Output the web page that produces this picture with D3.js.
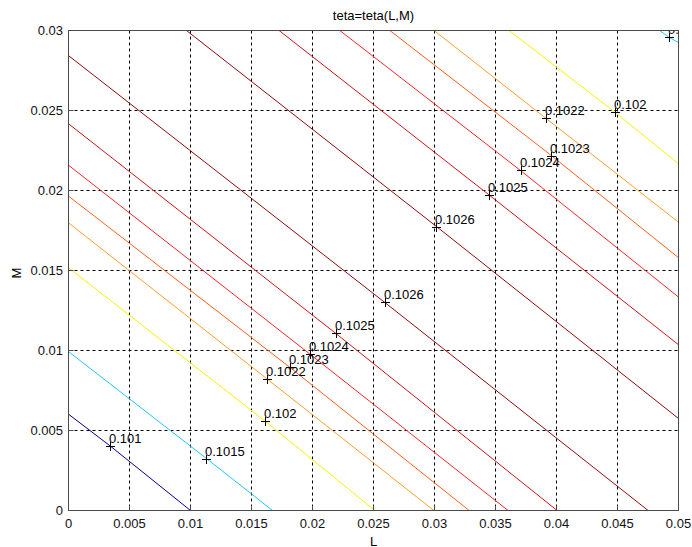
<!DOCTYPE html>
<html>
<head>
<meta charset="utf-8">
<script src="https://cdn.jsdelivr.net/npm/d3@7"></script>
<style>
  body { margin: 0; background: #fff; }
  svg text { font-family: Arial, "Liberation Sans", Helvetica, sans-serif; }
</style>
</head>
<body>
<div class="chart"></div>
<script>
// contour levels, one per drawn line (ridge between the two 0.1026 lines)
const contourLevels = [0.101, 0.1015, 0.102, 0.1022, 0.1023, 0.1024, 0.1025, 0.1026,
                       0.1026, 0.1025, 0.1024, 0.1023, 0.1022, 0.102, 0.1015];
const contourText = ["0.101", "0.1015", "0.102", "0.1022", "0.1023", "0.1024", "0.1025", "0.1026",
                     "0.1026", "0.1025", "0.1024", "0.1023", "0.1022", "0.102", "0.1015"];

// [L, M] points: edge, labelled point, edge
const contourLines = [
  [[0, 0.00602], [0.00344, 0.00402], [0.01000, 0]],
  [[0, 0.00993], [0.01131, 0.00325], [0.01672, 0]],
  [[0, 0.01517], [0.01609, 0.00560], [0.02511, 0]],
  [[0, 0.01798], [0.01623, 0.00825], [0.02995, 0]],
  [[0, 0.01965], [0.01814, 0.00895], [0.03284, 0]],
  [[0, 0.02158], [0.01978, 0.00978], [0.03603, 0]],
  [[0, 0.02417], [0.02189, 0.01108], [0.04005, 0]],
  [[0, 0.02843], [0.02593, 0.01300], [0.04751, 0]],
  [[0.00967, 0.03], [0.03016, 0.01775], [0.05, 0.00575]],
  [[0.01726, 0.03], [0.03448, 0.01972], [0.05, 0.01036]],
  [[0.02224, 0.03], [0.03705, 0.02125], [0.05, 0.01334]],
  [[0.02634, 0.03], [0.03959, 0.02218], [0.05, 0.01580]],
  [[0.02997, 0.03], [0.03910, 0.02453], [0.05, 0.01802]],
  [[0.03611, 0.03], [0.04478, 0.02490], [0.05, 0.02167]],
  [[0.04847, 0.03], [0.04921, 0.02958], [0.05, 0.02925]]
];

const xTicks = [0, 0.005, 0.01, 0.015, 0.02, 0.025, 0.03, 0.035, 0.04, 0.045, 0.05];
const xTickText = ["0", "0.005", "0.01", "0.015", "0.02", "0.025", "0.03", "0.035", "0.04", "0.045", "0.05"];
const yTicks = [0, 0.005, 0.01, 0.015, 0.02, 0.025, 0.03];
const yTickText = ["0", "0.005", "0.01", "0.015", "0.02", "0.025", "0.03"];

const levelColors = d3.scaleOrdinal()
  .domain([0.101, 0.1015, 0.102, 0.1022, 0.1023, 0.1024, 0.1025, 0.1026])
  .range(["#00008c", "#22c4f6", "#f8f800", "#ff9c2c", "#ff5e18", "#ff2424", "#d01414", "#8e0a0a"]);

const width = 692, height = 547;
const plotLeft = 68.5, plotRight = 678.5, plotTop = 30.5, plotBottom = 510.5;

const x = d3.scaleLinear().domain([0, 0.05]).range([plotLeft, plotRight]);
const y = d3.scaleLinear().domain([0, 0.03]).range([plotBottom, plotTop]);

const svg = d3.select(".chart").append("svg")
  .attr("width", width)
  .attr("height", height);

svg.append("defs").append("clipPath").attr("id", "plot")
  .append("rect")
  .attr("x", plotLeft).attr("y", plotTop)
  .attr("width", plotRight - plotLeft).attr("height", plotBottom - plotTop);

// grid
svg.append("g").selectAll("line")
  .data(xTicks.slice(1, -1))
  .join("line")
  .attr("x1", d => x(d)).attr("x2", d => x(d))
  .attr("y1", plotTop).attr("y2", plotBottom)
  .attr("stroke", "#000").attr("stroke-dasharray", "3,3");
svg.append("g").selectAll("line")
  .data(yTicks.slice(1, -1))
  .join("line")
  .attr("y1", d => y(d)).attr("y2", d => y(d))
  .attr("x1", plotLeft).attr("x2", plotRight)
  .attr("stroke", "#000").attr("stroke-dasharray", "3,3");

const line = d3.line().x(d => x(d[0])).y(d => y(d[1]));
const plot = svg.append("g").attr("clip-path", "url(#plot)");

plot.selectAll("path")
  .data(contourLines)
  .join("path")
  .attr("d", line)
  .attr("fill", "none")
  .attr("stroke", (d, i) => levelColors(contourLevels[i]))
  .attr("stroke-width", 1);

// clabel markers and text
const labels = plot.append("g").selectAll("g")
  .data(contourLines)
  .join("g")
  .attr("transform", d => "translate(" + Math.round(x(d[1][0])) + "," + Math.round(y(d[1][1])) + ")");
labels.append("path")
  .attr("d", "M-4,0.5H5M0.5,-4V5")
  .attr("stroke", "#000").attr("stroke-width", 1);
labels.append("text")
  .attr("x", -1).attr("y", -3)
  .attr("font-size", 13)
  .attr("fill", "#000")
  .text((d, i) => contourText[i]);

// ticks pointing in
svg.append("g").selectAll("line")
  .data(xTicks)
  .join("line")
  .attr("x1", d => x(d)).attr("x2", d => x(d))
  .attr("y1", plotBottom).attr("y2", plotBottom - 5)
  .attr("stroke", "#4a4a4a");
svg.append("g").selectAll("line")
  .data(yTicks)
  .join("line")
  .attr("y1", d => y(d)).attr("y2", d => y(d))
  .attr("x1", plotLeft).attr("x2", plotLeft + 5)
  .attr("stroke", "#4a4a4a");

svg.append("rect")
  .attr("x", plotLeft).attr("y", plotTop)
  .attr("width", plotRight - plotLeft).attr("height", plotBottom - plotTop)
  .attr("fill", "none").attr("stroke", "#4a4a4a");

svg.append("g").selectAll("text")
  .data(xTicks)
  .join("text")
  .attr("x", d => x(d)).attr("y", 528)
  .attr("text-anchor", "middle")
  .attr("font-size", 13).attr("fill", "#111")
  .text((d, i) => xTickText[i]);
svg.append("g").selectAll("text")
  .data(yTicks)
  .join("text")
  .attr("x", 63).attr("y", d => y(d) + 4.5)
  .attr("text-anchor", "end")
  .attr("font-size", 13).attr("fill", "#111")
  .text((d, i) => yTickText[i]);

svg.append("text")
  .attr("x", (plotLeft + plotRight) / 2).attr("y", 20)
  .attr("text-anchor", "middle").attr("font-size", 13)
  .text("teta=teta(L,M)");
svg.append("text")
  .attr("x", (plotLeft + plotRight) / 2).attr("y", 545.5)
  .attr("text-anchor", "middle").attr("font-size", 13)
  .text("L");
svg.append("text")
  .attr("transform", "translate(21,273) rotate(-90)")
  .attr("text-anchor", "middle").attr("font-size", 13)
  .text("M");
</script>
</body>
</html>
